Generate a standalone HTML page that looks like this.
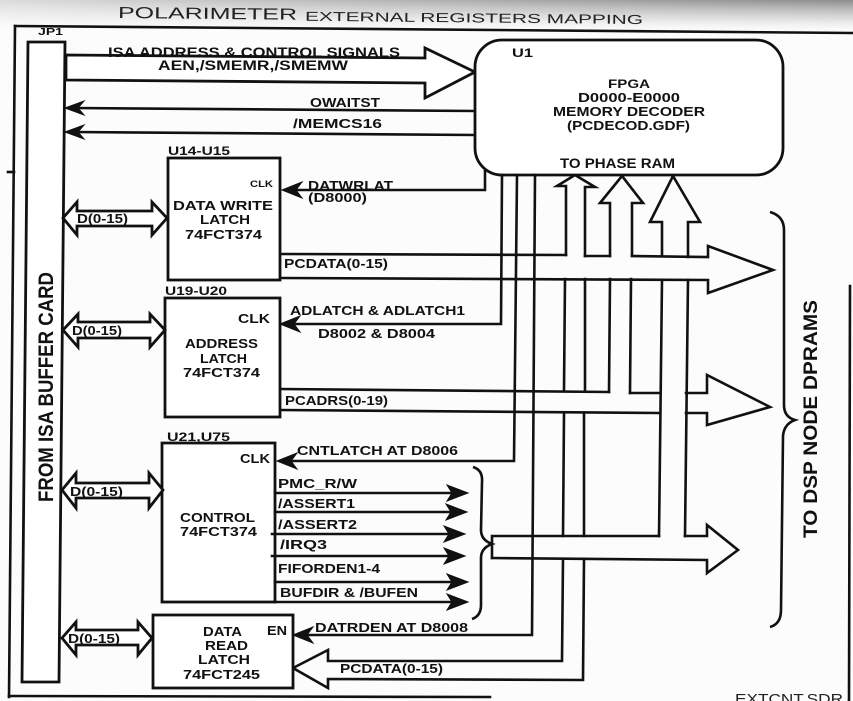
<!DOCTYPE html>
<html><head><meta charset="utf-8"><style>
html,body{margin:0;padding:0;background:#fcfcfc;}
svg{display:block;}
.b{font-family:"Liberation Sans",sans-serif;font-weight:bold;fill:#111;}
.n{font-family:"Liberation Sans",sans-serif;font-weight:normal;fill:#222;}
.l{fill:none;stroke:#111;stroke-width:2.6;stroke-linejoin:miter;stroke-linecap:square;}
.w{fill:#fff;stroke:#111;stroke-width:2.8;stroke-linejoin:miter;}
.a{fill:#111;stroke:#111;stroke-width:1;}
</style></head><body>
<svg width="853" height="701" viewBox="0 0 853 701" xmlns="http://www.w3.org/2000/svg">
<defs>
<linearGradient id="gv" x1="0" y1="0" x2="0" y2="1">
<stop offset="0" stop-color="#8c8c8c"/><stop offset="0.55" stop-color="#d0d0d0" stop-opacity="0.7"/><stop offset="1" stop-color="#fcfcfc" stop-opacity="0"/>
</linearGradient>
<linearGradient id="gh" x1="0" y1="0" x2="1" y2="0">
<stop offset="0" stop-color="#fcfcfc" stop-opacity="0.7"/><stop offset="0.6" stop-color="#fcfcfc" stop-opacity="0.25"/><stop offset="1" stop-color="#fcfcfc" stop-opacity="0"/>
</linearGradient>
</defs>
<rect width="853" height="701" fill="#fcfcfc"/>
<rect width="853" height="34" fill="url(#gv)"/>
<rect width="853" height="34" fill="url(#gh)"/>

<!-- title -->
<g transform="rotate(0.55 380 20)">
<text class="n" x="118" y="20.5" font-size="16" textLength="179" lengthAdjust="spacingAndGlyphs">POLARIMETER</text>
<text class="n" x="305" y="21.5" font-size="13" textLength="338" lengthAdjust="spacingAndGlyphs">EXTERNAL REGISTERS MAPPING</text>
</g>

<!-- outer frame -->
<path class="l" d="M15,26 L853,33"/>
<path class="l" d="M15,26 L9,697"/>
<path class="l" d="M9,696 L490,697"/>
<path class="l" d="M850,286 L849,701"/>
<path class="l" d="M8,172 L14,172" stroke-width="1.5"/>

<!-- JP1 -->
<text class="b" x="38" y="35" font-size="10" textLength="25" lengthAdjust="spacingAndGlyphs">JP1</text>
<polygon class="w" points="28,42 65,42 59,682 22,682" stroke-width="3.4"/>
<text class="b" font-size="21" textLength="230" lengthAdjust="spacingAndGlyphs" transform="translate(53,502) rotate(-90)" x="0" y="0">FROM ISA BUFFER CARD</text>

<!-- ISA arrow -->
<polygon class="w" points="66,55 425,58 425,48 475,72 425,98 425,83 66,80"/>
<text class="b" x="108" y="57" font-size="13.5" textLength="292" lengthAdjust="spacingAndGlyphs">ISA ADDRESS &amp; CONTROL SIGNALS</text>
<text class="b" x="158" y="70" font-size="13.5" textLength="190" lengthAdjust="spacingAndGlyphs">AEN,/SMEMR,/SMEMW</text>

<!-- OWAITST / MEMCS16 -->
<path class="l" d="M75,108 L475,111"/>
<polygon class="a" points="65,108 84,101 78,108 84,115"/>
<text class="b" x="310" y="107" font-size="13" textLength="70" lengthAdjust="spacingAndGlyphs">OWAITST</text>
<path class="l" d="M75,132 L475,135"/>
<polygon class="a" points="65,132 84,125 78,132 84,139"/>
<text class="b" x="293" y="128" font-size="13" textLength="89" lengthAdjust="spacingAndGlyphs">/MEMCS16</text>

<!-- U1 -->
<rect class="w" x="475" y="40" width="308" height="135" rx="27" ry="27" stroke-width="3"/>
<text class="b" x="512" y="57" font-size="12" textLength="21" lengthAdjust="spacingAndGlyphs">U1</text>
<text class="b" x="608" y="88" font-size="12" textLength="42" lengthAdjust="spacingAndGlyphs">FPGA</text>
<text class="b" x="578" y="102" font-size="12.5" textLength="102" lengthAdjust="spacingAndGlyphs">D0000-E0000</text>
<text class="b" x="553" y="116" font-size="13" textLength="152" lengthAdjust="spacingAndGlyphs">MEMORY DECODER</text>
<text class="b" x="567" y="130" font-size="13" textLength="123" lengthAdjust="spacingAndGlyphs">(PCDECOD.GDF)</text>
<text class="b" x="560" y="168" font-size="13.5" textLength="115" lengthAdjust="spacingAndGlyphs">TO PHASE RAM</text>

<!-- signal lines from U1 -->
<path class="l" d="M485,171 L485,190 L292,190"/>
<polygon class="a" points="282,190 302,182 296,190 302,198"/>
<path class="l" d="M502,175 L501,324 L290,324"/>
<polygon class="a" points="280,324 300,316 294,324 300,332"/>
<path class="l" d="M517,175 L514,461 L287,461"/>
<polygon class="a" points="277,461 297,453 291,461 297,469"/>
<path class="l" d="M535,175 L532,635 L303,635"/>
<polygon class="a" points="293,635 313,627 307,635 313,643"/>

<!-- phase RAM arrows -->
<path class="l" d="M566,255 L566,186 L557,186 L575,175 L595,187 L585,187 L585,256"/>
<path class="l" d="M610,256 L610,203 L600,203 L622,176 L643,203 L632,203 L632,256"/>
<path class="l" d="M662,256 L662,222 L650,222 L673,176 L700,222 L688,222 L688,257"/>

<!-- PCDATA bus -->
<path class="l" d="M281,254 L566,255"/>
<path class="l" d="M585,256 L610,256"/>
<path class="l" d="M632,256 L708,257 L708,246 L773,270 L708,293 L708,280 L281,278"/>

<!-- verticals below PCDATA -->
<path class="l" d="M565,279 L564,390"/>
<path class="l" d="M585,279 L585,391"/>
<path class="l" d="M610,279 L609,392"/>
<path class="l" d="M631,279 L630,393"/>
<path class="l" d="M662,280 L659,536"/>
<path class="l" d="M688,280 L685,536"/>

<!-- PCADRS bus -->
<path class="l" d="M281,389 L609,392"/>
<path class="l" d="M630,393 L659,393"/>
<path class="l" d="M686,393 L707,393 L707,375 L770,407 L707,425 L707,413 L686,413"/>
<path class="l" d="M281,410 L659,413"/>

<!-- verticals below PCADRS -->
<path class="l" d="M564,414 L563,536"/>
<path class="l" d="M584,414 L584,536"/>

<!-- control bus -->
<path class="l" d="M492,558 L492,536 L659,536"/>
<path class="l" d="M685,536 L707,536 L707,525 L738,550 L707,573 L707,560 L492,558"/>

<!-- data read bus -->
<path class="l" d="M563,559 L562,661 L328,661 L328,650 L293,668 L328,688 L328,679 L583,680 L584,559"/>

<!-- Data write latch -->
<text class="b" x="168" y="155" font-size="11.5" textLength="62" lengthAdjust="spacingAndGlyphs">U14-U15</text>
<rect class="w" x="168" y="158" width="112" height="122"/>
<text class="b" x="250" y="187" font-size="9" textLength="23" lengthAdjust="spacingAndGlyphs">CLK</text>
<text class="b" x="173" y="210" font-size="13" textLength="100" lengthAdjust="spacingAndGlyphs">DATA WRITE</text>
<text class="b" x="200" y="224" font-size="13" textLength="50" lengthAdjust="spacingAndGlyphs">LATCH</text>
<text class="b" x="185" y="239" font-size="13" textLength="77" lengthAdjust="spacingAndGlyphs">74FCT374</text>
<text class="b" x="308" y="190" font-size="13" textLength="85" lengthAdjust="spacingAndGlyphs">DATWRLAT</text>
<text class="b" x="308" y="202" font-size="13" textLength="59" lengthAdjust="spacingAndGlyphs">(D8000)</text>
<text class="b" x="284" y="268" font-size="13" textLength="104" lengthAdjust="spacingAndGlyphs">PCDATA(0-15)</text>

<!-- Address latch -->
<text class="b" x="165" y="295" font-size="11.5" textLength="62" lengthAdjust="spacingAndGlyphs">U19-U20</text>
<rect class="w" x="165" y="298" width="115" height="119"/>
<text class="b" x="238" y="323" font-size="13" textLength="32" lengthAdjust="spacingAndGlyphs">CLK</text>
<text class="b" x="185" y="348" font-size="13" textLength="73" lengthAdjust="spacingAndGlyphs">ADDRESS</text>
<text class="b" x="200" y="363" font-size="13" textLength="47" lengthAdjust="spacingAndGlyphs">LATCH</text>
<text class="b" x="183" y="377" font-size="13" textLength="77" lengthAdjust="spacingAndGlyphs">74FCT374</text>
<text class="b" x="290" y="315" font-size="13" textLength="175" lengthAdjust="spacingAndGlyphs">ADLATCH &amp; ADLATCH1</text>
<text class="b" x="318" y="338" font-size="13" textLength="117" lengthAdjust="spacingAndGlyphs">D8002 &amp; D8004</text>
<text class="b" x="285" y="405" font-size="13" textLength="103" lengthAdjust="spacingAndGlyphs">PCADRS(0-19)</text>

<!-- Control -->
<text class="b" x="167" y="441" font-size="11.5" textLength="63" lengthAdjust="spacingAndGlyphs">U21,U75</text>
<rect class="w" x="162" y="443" width="113" height="159"/>
<text class="b" x="240" y="463" font-size="13" textLength="30" lengthAdjust="spacingAndGlyphs">CLK</text>
<text class="b" x="180" y="522" font-size="13" textLength="75" lengthAdjust="spacingAndGlyphs">CONTROL</text>
<text class="b" x="180" y="536" font-size="13" textLength="77" lengthAdjust="spacingAndGlyphs">74FCT374</text>
<text class="b" x="297" y="455" font-size="13" textLength="161" lengthAdjust="spacingAndGlyphs">CNTLATCH AT D8006</text>

<path class="l" d="M275,493 L455,493"/><polygon class="a" points="468,493 447,485 452,493 447,501"/>
<path class="l" d="M275,512 L455,512"/><polygon class="a" points="467,512 446,504 451,512 446,520"/>
<path class="l" d="M272,534 L452,534"/><polygon class="a" points="465,534 444,526 449,534 444,542"/>
<path class="l" d="M272,556 L452,556"/><polygon class="a" points="465,556 444,548 449,556 444,564"/>
<path class="l" d="M275,582 L455,582"/><polygon class="a" points="468,582 447,574 452,582 447,590"/>
<path class="l" d="M275,602 L455,602"/><polygon class="a" points="468,602 447,594 452,602 447,610"/>
<text class="b" x="278" y="488" font-size="13" textLength="79" lengthAdjust="spacingAndGlyphs">PMC_R/W</text>
<text class="b" x="278" y="508" font-size="13" textLength="77" lengthAdjust="spacingAndGlyphs">/ASSERT1</text>
<text class="b" x="278" y="529" font-size="13" textLength="79" lengthAdjust="spacingAndGlyphs">/ASSERT2</text>
<text class="b" x="280" y="549" font-size="13" textLength="47" lengthAdjust="spacingAndGlyphs">/IRQ3</text>
<text class="b" x="278" y="573" font-size="13" textLength="102" lengthAdjust="spacingAndGlyphs">FIFORDEN1-4</text>
<text class="b" x="280" y="597" font-size="13" textLength="138" lengthAdjust="spacingAndGlyphs">BUFDIR &amp; /BUFEN</text>

<!-- control brace -->
<path d="M473,467 Q483,470 482,482 L481,530 Q481,540 492,544 Q481,548 481,558 L481,605 Q481,616 472,619" fill="none" stroke="#111" stroke-width="2.6"/>

<!-- Data read latch -->
<rect class="w" x="153" y="615" width="140" height="73"/>
<text class="b" x="203" y="636" font-size="13" textLength="39" lengthAdjust="spacingAndGlyphs">DATA</text>
<text class="b" x="267" y="635" font-size="13" textLength="20" lengthAdjust="spacingAndGlyphs">EN</text>
<text class="b" x="205" y="650" font-size="13" textLength="43" lengthAdjust="spacingAndGlyphs">READ</text>
<text class="b" x="198" y="664" font-size="13" textLength="52" lengthAdjust="spacingAndGlyphs">LATCH</text>
<text class="b" x="183" y="679" font-size="13" textLength="77" lengthAdjust="spacingAndGlyphs">74FCT245</text>
<text class="b" x="315" y="632" font-size="13" textLength="153" lengthAdjust="spacingAndGlyphs">DATRDEN AT D8008</text>
<text class="b" x="340" y="673" font-size="13" textLength="103" lengthAdjust="spacingAndGlyphs">PCDATA(0-15)</text>

<!-- D(0-15) double arrows -->
<polygon class="w" points="63,218 77,202 77,211 152,211 152,202 167,218 152,235 152,226 77,226 77,235" stroke-width="3"/>
<text class="b" x="77" y="223" font-size="13" textLength="51" lengthAdjust="spacingAndGlyphs">D(0-15)</text>
<polygon class="w" points="63,330 78,314 78,322 150,322 150,314 165,330 150,347 150,338 78,338 78,347" stroke-width="3"/>
<text class="b" x="72" y="335" font-size="13" textLength="50" lengthAdjust="spacingAndGlyphs">D(0-15)</text>
<polygon class="w" points="62,490 76,473 76,483 149,483 149,473 163,490 149,508 149,498 76,498 76,508" stroke-width="3"/>
<text class="b" x="70" y="496" font-size="13" textLength="53" lengthAdjust="spacingAndGlyphs">D(0-15)</text>
<polygon class="w" points="62,638 76,622 76,630 138,630 138,622 152,638 138,655 138,645 76,645 76,655" stroke-width="3"/>
<text class="b" x="68" y="643" font-size="13" textLength="52" lengthAdjust="spacingAndGlyphs">D(0-15)</text>

<!-- big brace -->
<path d="M770,212 Q784,216 784,230 L784,405 Q784,417 795,420 Q784,424 783,436 L781,610 Q781,624 770,627" fill="none" stroke="#111" stroke-width="2.6"/>
<text class="b" font-size="19" textLength="238" lengthAdjust="spacingAndGlyphs" transform="translate(817,538) rotate(-90)" x="0" y="0">TO DSP NODE DPRAMS</text>

<text class="n" x="735" y="704" font-size="14.5" textLength="108" lengthAdjust="spacingAndGlyphs">EXTCNT.SDR</text>
</svg>
</body></html>
